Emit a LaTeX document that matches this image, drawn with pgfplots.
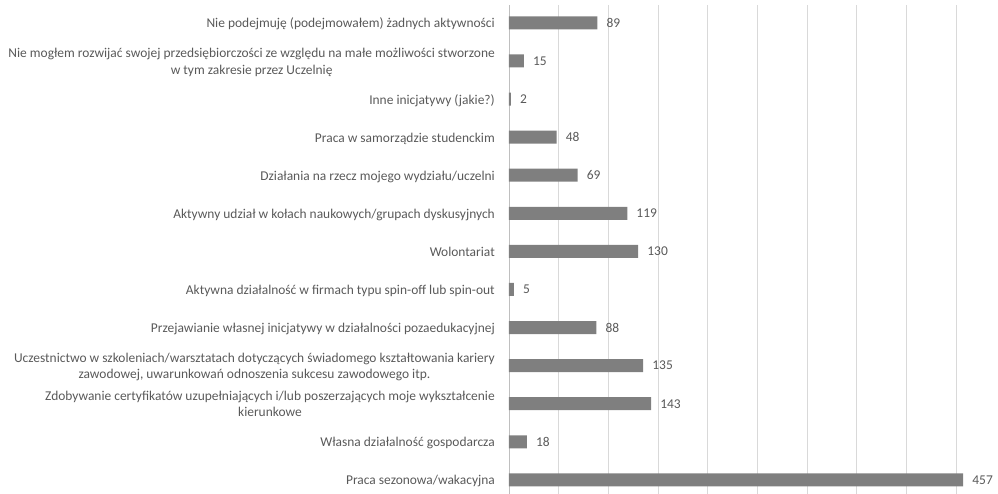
\documentclass[border=0pt]{standalone}
\usepackage{pgfplots}
\pgfplotsset{compat=1.18}
\usepackage{fontspec}
\setmainfont{Carlito}
\definecolor{barc}{HTML}{7F7F7F}
\definecolor{txt}{HTML}{595959}
\definecolor{gridc}{HTML}{D9D9D9}
\definecolor{axc}{HTML}{BFBFBF}
\newcommand{\two}[2]{\begin{tabular}{@{}c@{}}#1\\#2\end{tabular}}
\begin{document}
\begin{tikzpicture}
\begin{axis}[
  scale only axis,
  width=489bp, height=489bp,
  xbar, bar width=13bp,
  xmin=0, xmax=492,
  ymin=-0.37, ymax=12.47,
  xtick={0,50,...,450},
  xticklabels={},
  xmajorgrids, grid style={gridc, line width=0.8bp},
  major tick length=0pt,
  axis x line*=bottom,
  x axis line style={draw=none},
  axis y line*=left,
  y axis line style={-, draw=axc, line width=0.8bp},
  ytick={0,...,12},
  yticklabels={
    {Praca sezonowa/wakacyjna},
    {Własna działalność gospodarcza},
    {\two{Zdobywanie certyfikatów uzupełniających i/lub poszerzających moje wykształcenie}{kierunkowe}},
    {\two{Uczestnictwo w szkoleniach/warsztatach dotyczących świadomego kształtowania kariery}{zawodowej, uwarunkowań odnoszenia sukcesu zawodowego itp.}},
    {Przejawianie własnej inicjatywy w działalności pozaedukacyjnej\hspace{3bp}},
    {Aktywna działalność w firmach typu spin-off lub spin-out},
    {Wolontariat},
    {Aktywny udział w kołach naukowych/grupach dyskusyjnych},
    {Działania na rzecz mojego wydziału/uczelni\hspace{3bp}},
    {Praca w samorządzie studenckim},
    {Inne inicjatywy (jakie?)},
    {\two{Nie mogłem rozwijać swojej przedsiębiorczości ze względu na małe możliwości stworzone}{w tym zakresie przez Uczelnię}},
    {Nie podejmuję (podejmowałem) żadnych aktywności}
  },
  yticklabel style={font=\fontsize{13.5}{16.7}\selectfont, text=txt, anchor=base east, inner sep=0pt, xshift=-14bp, yshift=-5bp},
  /pgf/number format/assume math mode=true,
  nodes near coords,
  nodes near coords style={font=\fontsize{13.5}{16}\selectfont, text=txt, anchor=west, inner sep=0pt, xshift=9bp},
  clip=false,
]
\addplot[fill=barc, draw=none] coordinates {
  (457,0) (18,1) (143,2) (135,3) (88,4) (5,5) (130,6) (119,7) (69,8) (48,9) (2,10) (15,11) (89,12)
};
\coordinate (LL) at (rel axis cs:0,0);
\coordinate (UR) at (rel axis cs:1,1);
\end{axis}
\pgfresetboundingbox
\useasboundingbox ([xshift=-509bp]LL) rectangle ([yshift=5bp]UR);
\end{tikzpicture}
\end{document}
